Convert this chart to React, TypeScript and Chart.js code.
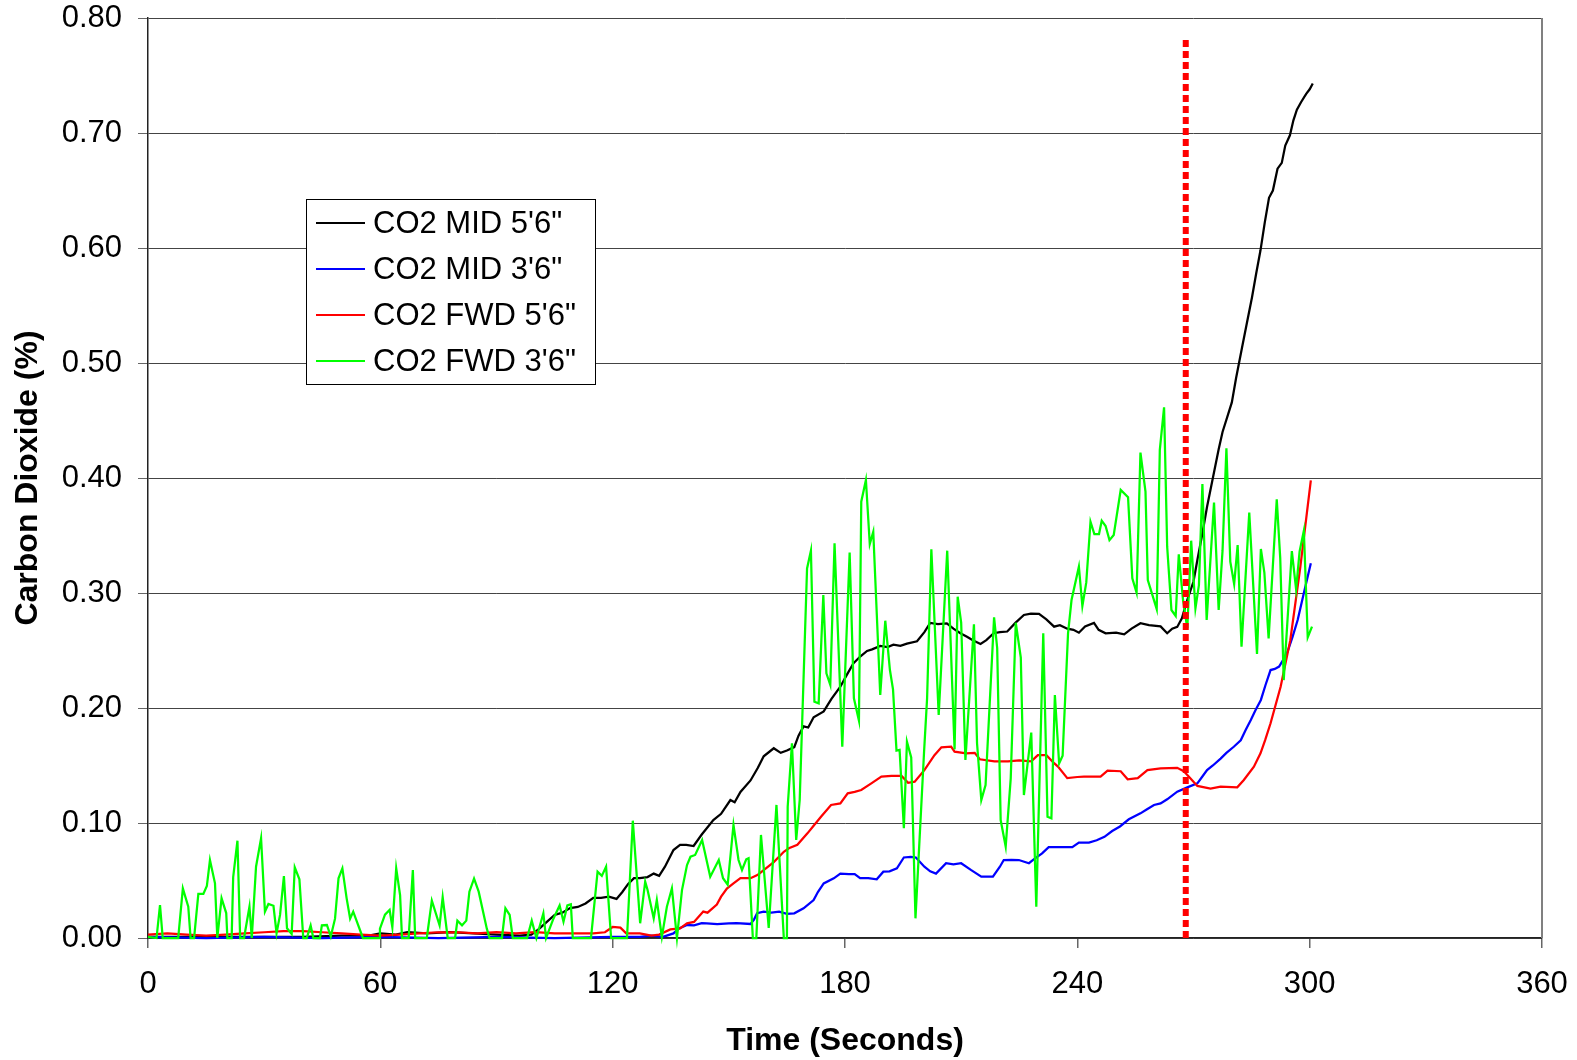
import React, { useEffect, useRef } from "react";
import { Chart, registerables } from "chart.js";

Chart.register(...registerables);

// ---- Data (time in seconds, CO2 in %) ----
const SERIES_NAMES = ["CO2 MID 5'6\"", "CO2 MID 3'6\"", "CO2 FWD 5'6\"", "CO2 FWD 3'6\""];
const SERIES_COLORS = ["#000000", "#0000FF", "#FF0000", "#00FF00"];

const MID_56: [number, number][] = [
  [0, 0.001], [10, 0.001], [20, 0.001], [30, 0.001], [40, 0.001], [50, 0.002], [57, 0.002], [60, 0.004],
  [64, 0.003], [67, 0.005], [72, 0.004], [78, 0.005], [84, 0.004], [90, 0.003], [96, 0.002], [99, 0.003],
  [101, 0.008], [103, 0.014], [105, 0.02], [107, 0.022], [109, 0.026], [111, 0.027], [113, 0.03], [115, 0.035],
  [117, 0.035], [119, 0.036], [121, 0.034], [122.5, 0.04], [124, 0.047], [125.5, 0.052], [127, 0.052],
  [129, 0.053], [130.6, 0.056], [132, 0.054], [133.5, 0.062], [135.7, 0.0765], [137.4, 0.081], [139, 0.081],
  [140.9, 0.08], [143, 0.09], [146, 0.1026], [148, 0.108], [150.4, 0.12], [151.5, 0.118], [153, 0.127],
  [155.6, 0.137], [157.5, 0.148], [159, 0.158], [161.6, 0.165], [163.4, 0.161], [165, 0.163], [166.9, 0.166],
  [168, 0.176], [169.3, 0.184], [170.5, 0.183], [171.9, 0.192], [174.5, 0.197], [176.5, 0.208], [178.8, 0.2185],
  [180.5, 0.229], [182.2, 0.239], [184, 0.245], [185.7, 0.2496], [187, 0.251], [189.1, 0.254], [191, 0.253],
  [192.5, 0.255], [194.3, 0.254], [196, 0.256], [198.6, 0.258], [200.5, 0.266], [202, 0.274], [204, 0.273],
  [206.3, 0.2735], [208, 0.269], [209.8, 0.265], [211.5, 0.262], [213, 0.259], [215, 0.2557], [216.5, 0.259],
  [218.4, 0.265], [220, 0.266], [221.9, 0.2665], [224, 0.274], [226.2, 0.2809], [228, 0.282], [230.1, 0.2818],
  [232, 0.277], [234, 0.2707], [235.5, 0.272], [237.4, 0.269], [239, 0.268], [240.4, 0.2655], [242, 0.271],
  [244.3, 0.274], [245.5, 0.268], [247.3, 0.265], [250, 0.2655], [252.1, 0.264], [254, 0.269], [256.3, 0.2737],
  [258.5, 0.272], [261.5, 0.271], [263.2, 0.265], [264.5, 0.269], [265.8, 0.2705], [267, 0.278], [268.4, 0.294],
  [270, 0.31], [271, 0.3287], [272.2, 0.35], [273.5, 0.375], [275, 0.4], [276.5, 0.425], [277.5, 0.44],
  [279.9, 0.4657], [281, 0.487], [282.5, 0.5128], [283.8, 0.535], [285.1, 0.557], [286.2, 0.578], [287.3, 0.598],
  [288.4, 0.622], [289.5, 0.6437], [290.5, 0.65], [291.7, 0.669], [292.8, 0.674], [293.7, 0.689], [294.9, 0.698],
  [295.8, 0.711], [296.7, 0.7203], [297.8, 0.727], [299.1, 0.734], [300, 0.738], [300.8, 0.743],
];

const MID_36: [number, number][] = [
  [0, 0.001], [15, 0.0], [30, 0.001], [45, 0.0], [60, 0.001], [75, 0.0], [90, 0.001], [105, 0.0], [120, 0.001],
  [127, 0.001], [130, 0.002], [133, 0.001], [135.7, 0.004], [137, 0.008], [139.2, 0.0113], [141, 0.011],
  [143, 0.013], [144.3, 0.0128], [147, 0.012], [150, 0.0128], [152, 0.013], [155.6, 0.0122], [156.5, 0.016],
  [157.3, 0.0215], [159, 0.0229], [161, 0.022], [163, 0.023], [165, 0.021], [166.9, 0.0215], [169.3, 0.0258],
  [171.9, 0.033], [173, 0.04], [174.5, 0.0475], [177.1, 0.0519], [178.8, 0.056], [181, 0.0555], [182.5, 0.0555],
  [183.9, 0.052], [186, 0.052], [188.2, 0.051], [189.9, 0.0577], [191.5, 0.058], [193.4, 0.0606], [195.2, 0.07],
  [197, 0.0705], [198.3, 0.07], [200.5, 0.062], [202, 0.058], [203.5, 0.056], [206.1, 0.065], [208, 0.064],
  [210, 0.065], [212.6, 0.059], [215.2, 0.0533], [218.2, 0.0533], [220, 0.062], [221, 0.0678], [223, 0.068],
  [224.9, 0.0678], [227.5, 0.065], [229, 0.069], [230.9, 0.0736], [232.6, 0.079], [235, 0.079], [238.7, 0.079],
  [240.4, 0.0829], [243, 0.083], [245, 0.085], [247, 0.088], [249, 0.093], [251, 0.097], [253.3, 0.1032],
  [256.3, 0.1084], [258, 0.112], [259.8, 0.1157], [261.5, 0.117], [263.2, 0.1206], [265.8, 0.1272], [268.4, 0.131],
  [271, 0.1345], [272.2, 0.14], [273.5, 0.146], [275, 0.15], [277, 0.156], [278.5, 0.161], [280.4, 0.1663],
  [282.2, 0.172], [283.5, 0.181], [284.8, 0.1896], [286, 0.198], [287.4, 0.207], [288.6, 0.22], [289.9, 0.233],
  [291, 0.234], [292.1, 0.236], [293.2, 0.242], [294.3, 0.249], [295.6, 0.262], [296.9, 0.2765], [298.5, 0.3],
  [300.3, 0.3258],
];

const FWD_56: [number, number][] = [
  [0, 0.003], [5, 0.004], [10, 0.003], [15, 0.002], [20, 0.003], [25, 0.004], [30, 0.005], [35, 0.006], [40, 0.006],
  [45, 0.005], [50, 0.004], [55, 0.003], [60, 0.002], [65, 0.003], [70, 0.004], [75, 0.005], [80, 0.005],
  [85, 0.004], [90, 0.005], [95, 0.004], [100, 0.005], [105, 0.004], [110, 0.004], [115, 0.004], [118, 0.005],
  [120, 0.0096], [122, 0.009], [123.5, 0.004], [127, 0.004], [130, 0.002], [132, 0.003], [134.9, 0.0075],
  [137.4, 0.0084], [139.2, 0.0128], [141, 0.014], [143.4, 0.023], [144.5, 0.022], [146.9, 0.029], [148, 0.036],
  [149.5, 0.043], [151.2, 0.0475], [153, 0.052], [155.6, 0.052], [157.5, 0.055], [159, 0.059], [161.6, 0.066],
  [164.2, 0.075], [165.5, 0.078], [167.7, 0.081], [170.3, 0.091], [172, 0.098], [173.8, 0.1055], [176.4, 0.1157],
  [178.8, 0.117], [180.7, 0.1258], [182.5, 0.127], [184.2, 0.1287], [186.8, 0.1345], [189.4, 0.1403], [192, 0.141],
  [194.6, 0.141], [196.3, 0.135], [198, 0.136], [200.5, 0.146], [203.1, 0.159], [204.9, 0.1658], [207.4, 0.1664],
  [208.3, 0.162], [211.3, 0.1606], [213.5, 0.161], [214.8, 0.1554], [218.6, 0.1536], [222.1, 0.1536],
  [225, 0.1545], [228.1, 0.1536], [229.8, 0.159], [232, 0.159], [234, 0.152], [235, 0.149], [237.4, 0.139],
  [240, 0.14], [241.7, 0.1403], [246, 0.1403], [247.8, 0.1455], [251.2, 0.145], [253, 0.138], [255.6, 0.139],
  [258.1, 0.146], [261.5, 0.1475], [265.8, 0.148], [267.5, 0.145], [268.4, 0.1417], [271, 0.1322], [274.4, 0.13],
  [277, 0.1316], [281.3, 0.131], [283, 0.1374], [285.6, 0.149], [287.3, 0.1606], [288.5, 0.172], [289.9, 0.1867],
  [292.5, 0.2185], [295, 0.259], [297.6, 0.323], [300.3, 0.398],
];

const FWD_36: [number, number][] = [
  [0, 0.001], [2.2, 0], [3.1, 0.0287], [3.8, 0], [7.8, 0], [9, 0.0432], [10.4, 0.0272], [11, 0], [11.9, 0],
  [13, 0.0383], [14.3, 0.0383], [15.2, 0.0452], [16, 0.0678], [17.3, 0.0475], [17.9, 0], [19, 0.0345],
  [20.2, 0.0217], [20.5, 0], [21.6, 0], [22, 0.053], [23.1, 0.0846], [23.8, 0], [24.8, 0], [26.2, 0.0272],
  [26.8, 0], [27.9, 0.062], [29.2, 0.0867], [30.2, 0.0229], [31.1, 0.0296], [32.4, 0.028], [33.2, 0.0042],
  [34.1, 0.0201], [35.1, 0.0539], [35.9, 0.0084], [37.1, 0.0035], [37.9, 0.0614], [39.1, 0.051], [40.1, 0],
  [41, 0], [42, 0.011], [42.7, 0], [44.4, 0], [44.9, 0.011], [46.2, 0.0113], [47.2, 0.0014], [48.3, 0.0168],
  [49.2, 0.0519], [50.2, 0.0606], [51.3, 0.0345], [52.2, 0.0168], [53, 0.0229], [55.5, 0], [59.8, 0],
  [59.9, 0.0081], [61.2, 0.0203], [62.4, 0.0244], [63.1, 0.0093], [64.1, 0.0606], [65.1, 0.0374], [65.6, 0],
  [67.3, 0], [68.4, 0.0591], [69, 0], [72, 0], [73.3, 0.0325], [75.3, 0.011], [76.1, 0.0354], [77.4, 0],
  [79.3, 0], [79.9, 0.0151], [81.1, 0.011], [82.2, 0.0151], [83, 0.0403], [84.2, 0.0516], [85.4, 0.0403],
  [87.5, 0.0081], [88.2, 0], [91.4, 0], [92.3, 0.0258], [93.4, 0.0201], [94.2, 0], [97.9, 0], [99.1, 0.0151],
  [100.3, 0], [102.1, 0.0215], [102.8, 0], [104.7, 0.0168], [106.3, 0.0283], [107.3, 0.0142], [108.3, 0.0283],
  [109.2, 0.0293], [109.7, 0], [114.4, 0], [116.1, 0.0577], [117.2, 0.054], [118.3, 0.062], [119.6, 0],
  [123.7, 0], [125.2, 0.102], [127.1, 0.0128], [128.4, 0.049], [129, 0.042], [130.6, 0.0171], [131.4, 0.033],
  [132.7, 0.0009], [134, 0.0272], [135.3, 0.0432], [136.6, 0], [137.9, 0.0417], [139.2, 0.0635], [140.1, 0.0707],
  [141.3, 0.0722], [143.1, 0.0852], [145.2, 0.0533], [147.4, 0.0678], [148.5, 0.052], [149.7, 0.0464],
  [151.2, 0.0983], [152.5, 0.0678], [153.4, 0.0591], [154.5, 0.0684], [155.1, 0.0693], [156.2, 0], [157.1, 0],
  [158.3, 0.0896], [160.3, 0.0087], [162.3, 0.1157], [164.2, 0], [165, 0], [165.2, 0.1142], [166.3, 0.1693],
  [167.4, 0.0852], [168.3, 0.12], [170.2, 0.3214], [171.2, 0.3368], [172.1, 0.2055], [173.2, 0.204],
  [174.4, 0.2983], [175.2, 0.2301], [176.2, 0.22], [177.3, 0.3432], [179.3, 0.1664], [181.2, 0.3351],
  [182.3, 0.2084], [183.6, 0.189], [184.2, 0.3794], [185.4, 0.3983], [186.4, 0.3426], [187.3, 0.3533],
  [189.1, 0.2113], [190.4, 0.2759], [191.6, 0.233], [192.4, 0.2162], [193.3, 0.1629], [194.1, 0.1635],
  [195.2, 0.0954], [196, 0.1707], [197.1, 0.157], [198.2, 0.0171], [200.4, 0.1606], [201.2, 0.2084],
  [202.3, 0.338], [204.2, 0.1939], [206.4, 0.3368], [207.2, 0.2649], [208.3, 0.164], [209.1, 0.2968],
  [210, 0.2742], [211.1, 0.1548], [213.3, 0.2728], [214.1, 0.1693], [215.2, 0.12], [216.3, 0.133],
  [218.5, 0.2788], [219.3, 0.2522], [220.2, 0.1026], [221.5, 0.0794], [222.8, 0.1388], [224.1, 0.2742],
  [225.4, 0.2438], [226.2, 0.1243], [228.1, 0.1786], [229.4, 0.0272], [231.2, 0.2649], [232.3, 0.1055],
  [233.3, 0.1041], [234.2, 0.2113], [235.3, 0.1519], [236.2, 0.1586], [237.6, 0.2649], [238.5, 0.2939],
  [240.4, 0.3229], [241.3, 0.2887], [242.3, 0.309], [243.4, 0.362], [244.4, 0.3513], [245.6, 0.3513],
  [246.3, 0.3629], [247.3, 0.3582], [248.3, 0.346], [249.4, 0.3504], [251.2, 0.3896], [253.1, 0.3832],
  [254.2, 0.3128], [255.3, 0.3003], [256.3, 0.4221], [257.6, 0.3881], [258.2, 0.3113], [260.5, 0.286],
  [261.3, 0.4244], [262.4, 0.4615], [263.2, 0.3403], [264.3, 0.2852], [265.4, 0.28], [266.2, 0.3336],
  [267.3, 0.2939], [268.4, 0.2693], [269.4, 0.3455], [270.5, 0.2867], [271.4, 0.3069], [272.3, 0.3948],
  [273.4, 0.2765], [275.3, 0.3786], [276.5, 0.2852], [277.5, 0.3368], [278.5, 0.4258], [279.5, 0.3272],
  [280.5, 0.3078], [281.4, 0.3417], [282.4, 0.2533], [284.4, 0.3699], [286.4, 0.247], [287.4, 0.3383],
  [288.3, 0.3177], [289.4, 0.2606], [291.5, 0.3815], [292.4, 0.3301], [293.3, 0.2243], [295.4, 0.3365],
  [296.5, 0.3032], [297.4, 0.3362], [298.5, 0.3542], [299.5, 0.2614], [300.6, 0.2707],
];

const SERIES_DATA = [MID_56, MID_36, FWD_56, FWD_36];

// vertical event marker (dashed red line)
const MARKER_TIME = 268;
const MARKER_RANGE = [0, 0.782];

const X_MIN = 0;
const X_MAX = 360;
const X_STEP = 60;
const Y_MIN = 0;
const Y_MAX = 0.8;
const Y_STEP = 0.1;

const X_TITLE = "Time (Seconds)";
const Y_TITLE = "Carbon Dioxide (%)";

const FONT_FAMILY = '"Liberation Sans", Arial, Helvetica, sans-serif';

const boxLegendPlugin = {
  id: "boxLegend",
  afterDraw(chart: any) {
    const ctx = chart.ctx as CanvasRenderingContext2D;
    const bx = 306, by = 199, bw = 289, bh = 185;
    ctx.save();
    ctx.fillStyle = "#ffffff";
    ctx.fillRect(bx, by, bw, bh);
    ctx.strokeStyle = "#000000";
    ctx.lineWidth = 1;
    ctx.strokeRect(bx + 0.5, by + 0.5, bw, bh);
    ctx.font = `31px ${FONT_FAMILY}`;
    ctx.textBaseline = "middle";
    ctx.textAlign = "left";
    SERIES_NAMES.forEach((name, i) => {
      const y = by + 24 + i * 46;
      ctx.strokeStyle = SERIES_COLORS[i];
      ctx.lineWidth = 2;
      ctx.beginPath();
      ctx.moveTo(bx + 10, y);
      ctx.lineTo(bx + 59, y);
      ctx.stroke();
      ctx.fillStyle = "#000000";
      ctx.fillText(name, bx + 67, y + 1);
    });
    ctx.restore();
  },
};

const rightBorderPlugin = {
  id: "rightBorder",
  afterDatasetsDraw(chart: any) {
    const { ctx, chartArea } = chart;
    ctx.save();
    ctx.strokeStyle = "#808080";
    ctx.lineWidth = 2;
    ctx.beginPath();
    ctx.moveTo(chartArea.right, chartArea.top);
    ctx.lineTo(chartArea.right, chartArea.bottom);
    ctx.stroke();
    ctx.restore();
  },
};

export default function App() {
  const canvasRef = useRef<HTMLCanvasElement | null>(null);

  useEffect(() => {
    document.body.style.margin = "0";
    const canvas = canvasRef.current;
    if (!canvas) return;

    const toPts = (arr: [number, number][]) => arr.map(([x, y]) => ({ x, y }));

    const datasets: any[] = SERIES_DATA.map((arr, i) => ({
      label: SERIES_NAMES[i],
      data: toPts(arr),
      borderColor: SERIES_COLORS[i],
      backgroundColor: SERIES_COLORS[i],
      borderWidth: 2.25,
      pointRadius: 0,
      tension: 0,
      fill: false,
      clip: false,
      order: SERIES_DATA.length - i,
    }));
    datasets.push({
      label: "marker",
      data: [
        { x: MARKER_TIME, y: MARKER_RANGE[0] },
        { x: MARKER_TIME, y: MARKER_RANGE[1] },
      ],
      borderColor: "#FF0000",
      borderWidth: 6,
      borderDash: [7, 4],
      borderCapStyle: "butt",
      pointRadius: 0,
      fill: false,
      clip: false,
      order: 0,
    });

    const tickFont = { family: FONT_FAMILY, size: 31 };
    const titleFont = { family: FONT_FAMILY, size: 32, weight: "bold" as const };

    const chart = new Chart(canvas, {
      type: "line",
      data: { datasets },
      plugins: [rightBorderPlugin, boxLegendPlugin],
      options: {
        animation: false,
        responsive: false,
        layout: { padding: { top: 18, right: 35, left: 0, bottom: 0 } },
        plugins: {
          legend: { display: false },
          tooltip: { enabled: false },
        },
        scales: {
          x: {
            type: "linear",
            min: X_MIN,
            max: X_MAX,
            ticks: {
              stepSize: X_STEP,
              font: tickFont,
              color: "#000000",
              padding: 18,
              maxRotation: 0,
              autoSkip: false,
            },
            grid: {
              drawOnChartArea: false,
              drawTicks: true,
              tickLength: 10,
              tickColor: "#666666",
              lineWidth: 1.5,
            },
            border: { color: "#222222", width: 1.5 },
            title: {
              display: true,
              text: X_TITLE,
              font: titleFont,
              color: "#000000",
              padding: { top: 0, bottom: 0 },
            },
            afterFit: (s: any) => {
              s.height = 122;
              s.paddingLeft = 0;
              s.paddingRight = 0;
            },
          },
          y: {
            type: "linear",
            min: Y_MIN,
            max: Y_MAX,
            ticks: {
              stepSize: Y_STEP,
              font: tickFont,
              color: "#000000",
              padding: 16,
              callback: (v: any) => Number(v).toFixed(2),
            },
            grid: {
              color: "#444444",
              lineWidth: 1,
              tickLength: 10,
              tickColor: "#666666",
            },
            border: { color: "#222222", width: 1.5 },
            title: {
              display: true,
              text: Y_TITLE,
              font: titleFont,
              color: "#000000",
              padding: { top: 9, bottom: 0 },
            },
            afterFit: (s: any) => {
              s.width = 148;
              s.paddingTop = 0;
              s.paddingBottom = 0;
            },
          },
        },
      },
    } as any);

    return () => {
      chart.destroy();
    };
  }, []);

  return (
    <canvas
      ref={canvasRef}
      width={1577}
      height={1060}
      style={{ display: "block", width: "1577px", height: "1060px" }}
    />
  );
}
